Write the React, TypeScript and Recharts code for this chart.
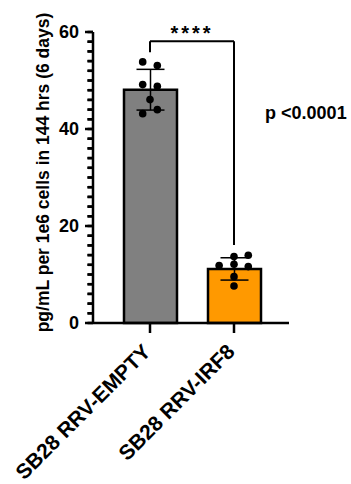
import React from 'react';
import {
  ComposedChart,
  Bar,
  Cell,
  ErrorBar,
  Scatter,
  XAxis,
  YAxis,
  ReferenceLine,
  ReferenceDot,
} from 'recharts';

// ---- data ----
const categories = ['SB28 RRV-EMPTY', 'SB28 RRV-IRF8'];
const means = [48.1, 11.15];
const sds = [4.2, 2.3];
const barColors = ['#808080', '#FF9900'];

const emptyValues = [53.84, 53.08, 49.15, 48.8, 46.06, 43.16, 43.99];
const emptyJitter = [-0.087, 0.087, -0.087, 0.087, 0, -0.087, 0.087];
const irf8Values = [13.98, 13.69, 11.83, 12.12, 11.63, 9.56, 7.64];
const irf8Jitter = [0.17, 0, -0.177, 0, 0.17, 0, 0];

const majorTicks = [0, 20, 40, 60];
const minorTicks = [0, 2, 4, 6, 8, 10, 12, 14, 16, 18, 20, 22, 24, 26, 28, 30, 32, 34, 36, 38, 40, 42, 44, 46, 48, 50, 52, 54, 56, 58, 60];

const yLabel = 'pg/mL per 1e6 cells in 144 hrs (6 days)';
const sigText = '****';
const pText = 'p <0.0001';
const bracketTop = 58.1;
const bracketLeftBottom = 55.8;
const bracketRightBottom = 16.1;
const starsY = 59.8;
const pPos = { x: 1.37, y: 43.4 };

// ---- derived tables ----
const barData = categories.map((name, i) => ({ name, mean: means[i], sd: sds[i] }));
const pointData = [
  ...emptyValues.map((y, i) => ({ x: 0 + emptyJitter[i], y })),
  ...irf8Values.map((y, i) => ({ x: 1 + irf8Jitter[i], y })),
];

const FONT = '"Liberation Sans", Arial, Helvetica, sans-serif';
const X_PAD = { left: 15, right: 13 };

const renderXTick = (props: any) => {
  const { x, y, payload, index } = props;
  const ax = x + 2;
  const ay = y + 18;
  return (
    <text
      key={`xt-${index}`}
      x={ax}
      y={ay}
      transform={`rotate(-45 ${ax} ${ay})`}
      textAnchor="end"
      fontFamily={FONT}
      fontWeight="bold"
      fontSize={21}
      fill="#000"
    >
      {payload.value}
    </text>
  );
};

const majorLabel = (v: number) => (majorTicks.includes(v) ? String(v) : '');

const makeTickShape = (major: boolean) => (props: any) => {
  const left = Math.min(Number(props.x1), Number(props.x2));
  const y = Number(props.y1);
  const len = major ? 8 : 5.5;
  return <line x1={left - len} x2={left} y1={y} y2={y} stroke="#000" strokeWidth={2.5} />;
};

const renderYLabel = (props: any) => {
  const vb = props.viewBox || {};
  const cx = vb.x + 43;
  const cy = vb.y + vb.height / 2 - 5;
  return (
    <text
      x={cx}
      y={cy}
      transform={`rotate(-90 ${cx} ${cy})`}
      textAnchor="middle"
      dominantBaseline="central"
      fontFamily={FONT}
      fontWeight="bold"
      fontSize={17.5}
      fill="#000"
    >
      {yLabel}
    </text>
  );
};

const renderStars = (props: any) => {
  const vb = props.viewBox || {};
  return (
    <text
      x={vb.x}
      y={vb.y}
      textAnchor="middle"
      dominantBaseline="central"
      fontFamily={FONT}
      fontWeight="bold"
      fontSize={20}
      letterSpacing={3}
      fill="#000"
    >
      {sigText}
    </text>
  );
};

const renderP = (props: any) => {
  const vb = props.viewBox || {};
  return (
    <text
      x={vb.x}
      y={vb.y}
      textAnchor="start"
      dominantBaseline="central"
      fontFamily={FONT}
      fontWeight="bold"
      fontSize={18}
      fill="#000"
    >
      {pText}
    </text>
  );
};

const renderDot = (props: any) => <circle cx={props.cx} cy={props.cy} r={3.8} fill="#000" />;

export default function App() {
  return (
    <div style={{ position: 'absolute', left: 0, top: 0, width: 351, height: 484, background: '#fff' }}>
      <ComposedChart
        width={351}
        height={484}
        data={barData}
        margin={{ top: 32, right: 62, bottom: 0, left: 0 }}
        barCategoryGap={0}
      >
        <XAxis
          xAxisId="cat"
          dataKey="name"
          type="category"
          padding={X_PAD}
          height={161}
          interval={0}
          axisLine={{ stroke: '#000', strokeWidth: 2.5 }}
          tickLine={{ stroke: '#000', strokeWidth: 2.5 }}
          tickSize={10}
          tickMargin={2}
          tick={renderXTick}
        />
        <XAxis
          xAxisId="num"
          dataKey="x"
          type="number"
          domain={[-0.5, 1.5]}
          padding={X_PAD}
          hide
        />
        <XAxis xAxisId="edge" type="number" domain={[0, 1]} hide />
        <YAxis
          yAxisId="main"
          type="number"
          domain={[0, 60]}
          ticks={minorTicks}
          interval={0}
          tickFormatter={majorLabel}
          width={93}
          axisLine={{ stroke: '#000', strokeWidth: 2.5 }}
          tickLine={{ stroke: '#000', strokeWidth: 2.5 }}
          tickSize={5.5}
          tickMargin={8.5}
          tick={{ fontSize: 18, fontWeight: 'bold', fill: '#000', fontFamily: FONT }}
          label={{ content: renderYLabel }}
        />
        {minorTicks.map((v) => (
          <ReferenceLine
            key={`tick-${v}`}
            xAxisId="edge"
            yAxisId="main"
            y={v}
            ifOverflow="visible"
            stroke="#000"
            shape={makeTickShape(majorTicks.includes(v))}
          />
        ))}
        <Bar
          xAxisId="cat"
          yAxisId="main"
          dataKey="mean"
          barSize={53}
          stroke="#000"
          strokeWidth={2.5}
          isAnimationActive={false}
        >
          {barData.map((d, i) => (
            <Cell key={d.name} fill={barColors[i]} />
          ))}
          <ErrorBar dataKey="sd" width={14} stroke="#000" strokeWidth={1.5} isAnimationActive={false} />
        </Bar>
        <Scatter
          xAxisId="num"
          yAxisId="main"
          data={pointData}
          dataKey="y"
          shape={renderDot}
          isAnimationActive={false}
        />
        <ReferenceLine
          xAxisId="num"
          yAxisId="main"
          segment={[{ x: 0, y: bracketTop }, { x: 1, y: bracketTop }]}
          stroke="#000"
          strokeWidth={2}
          ifOverflow="visible"
        />
        <ReferenceLine
          xAxisId="num"
          yAxisId="main"
          segment={[{ x: 0, y: bracketLeftBottom }, { x: 0, y: bracketTop }]}
          stroke="#000"
          strokeWidth={2}
          ifOverflow="visible"
        />
        <ReferenceLine
          xAxisId="num"
          yAxisId="main"
          segment={[{ x: 1, y: bracketRightBottom }, { x: 1, y: bracketTop }]}
          stroke="#000"
          strokeWidth={2}
          ifOverflow="visible"
        />
        <ReferenceDot
          xAxisId="num"
          yAxisId="main"
          x={0.5}
          y={starsY}
          r={0}
          fill="none"
          stroke="none"
          ifOverflow="visible"
          label={{ content: renderStars }}
        />
        <ReferenceDot
          xAxisId="num"
          yAxisId="main"
          x={pPos.x}
          y={pPos.y}
          r={0}
          fill="none"
          stroke="none"
          ifOverflow="visible"
          label={{ content: renderP }}
        />
      </ComposedChart>
    </div>
  );
}
